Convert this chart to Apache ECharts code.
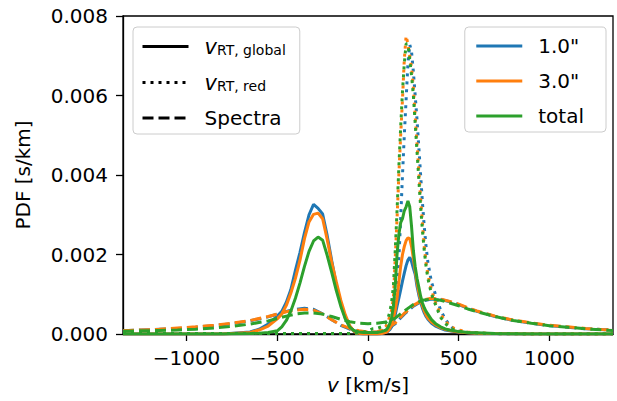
<!DOCTYPE html>
<html><head><meta charset="utf-8">
<script src="https://cdn.jsdelivr.net/npm/echarts@6/dist/echarts.min.js"></script>
<style>html,body{margin:0;padding:0;background:#fff}#c{width:617px;height:401px}</style>
</head><body><div id="c"></div>
<script>
// velocity grid (km/s) for the RT curves
const vFine = [
  -1350, -800, -650, -600, -550,
  -500, -475, -450, -425, -400,
  -375, -350, -325, -300, -275,
  -250, -225, -200, -175, -150,
  -125, -100, -75, -50, -25,
  0, 25, 50, 75, 100,
  110, 120, 130, 140, 150,
  160, 170, 180, 190, 200,
  210, 220, 230, 240, 250,
  260, 270, 280, 290, 300,
  310, 320, 330, 350, 375,
  400, 425, 450, 475, 500,
  550, 600, 700, 900, 1350
];
// v_RT,global (solid)
const globalBlue = [
  0, 0, 0.00005, 0.00012, 0.00025,
  0.00045, 0.00057, 0.0008, 0.00112, 0.0016,
  0.00205, 0.00255, 0.003, 0.00326, 0.00316,
  0.00302, 0.00248, 0.00185, 0.00125, 0.00078,
  0.0004, 0.00018, 0.00006, 0.00002, 0,
  0, 0, 0, 0.00001, 0.00004,
  0.00007, 0.00011, 0.00018, 0.0003, 0.00048,
  0.0007, 0.0009, 0.00111, 0.00133, 0.00153,
  0.00172, 0.00186, 0.00193, 0.00182, 0.00165,
  0.0015, 0.0012, 0.00098, 0.0008, 0.00065,
  0.00053, 0.00044, 0.00037, 0.00027, 0.00019,
  0.00014, 0.0001, 0.00008, 0.00006, 0.00005,
  0.00003, 0.00002, 0.00001, 0, 0
];
const globalOrange = [
  0, 0, 0.00004, 0.0001, 0.0002,
  0.00038, 0.0005, 0.00072, 0.00103, 0.0014,
  0.00185, 0.0024, 0.00282, 0.00301, 0.00304,
  0.0029, 0.00238, 0.0018, 0.00132, 0.00085,
  0.00048, 0.0002, 0.00006, 0.00002, 0,
  0, 0, 0, 0.00001, 0.00004,
  0.00008, 0.00014, 0.00025, 0.0004, 0.0006,
  0.0009, 0.0013, 0.0017, 0.002, 0.0022,
  0.00235, 0.00242, 0.0024, 0.0022, 0.0019,
  0.0016, 0.0013, 0.00105, 0.00086, 0.00071,
  0.00058, 0.00048, 0.0004, 0.0003, 0.00022,
  0.00016, 0.00012, 0.00009, 0.00007, 0.00005,
  0.00003, 0.00002, 0.00001, 0, 0
];
const globalGreen = [
  0, 0, 0.00001, 0.00002, 0.00004,
  0.00008, 0.00018, 0.00034, 0.00058, 0.0009,
  0.00128, 0.0017, 0.00208, 0.00234, 0.00244,
  0.00236, 0.00198, 0.00155, 0.0011, 0.0007,
  0.00038, 0.00017, 0.00008, 0.00005, 0.00004,
  0.00004, 0.00004, 0.00004, 0.00006, 0.0001,
  0.00016, 0.00026, 0.00042, 0.0007, 0.0012,
  0.002, 0.0025, 0.0028, 0.0029, 0.0031,
  0.0032, 0.00335, 0.0032, 0.0027, 0.0021,
  0.0017, 0.0014, 0.00118, 0.00095, 0.00078,
  0.00066, 0.00057, 0.0005, 0.00036, 0.00025,
  0.00018, 0.00013, 0.0001, 0.00008, 0.00006,
  0.00004, 0.00003, 0.00001, 0, 0
];
// v_RT,red (dotted)
const redBlue = [
  0.00001, 0.00001, 0.00001, 0.00001, 0.00001,
  0.00001, 0.00001, 0.00001, 0.00001, 0.00001,
  0.00001, 0.00001, 0.00001, 0.00001, 0.00001,
  0.00001, 0.00001, 0.00001, 0.00001, 0.00001,
  0.00001, 0.00001, 0.00001, 0.00001, 0.00002,
  0.00002, 0.00003, 0.00004, 0.00006, 0.0001,
  0.00014, 0.0002, 0.0003, 0.00045, 0.0006,
  0.0009, 0.0019, 0.0029, 0.004, 0.005,
  0.0059, 0.0068, 0.00728, 0.0071, 0.0066,
  0.006, 0.0054, 0.0047, 0.004, 0.0033,
  0.0027, 0.0022, 0.0018, 0.0013, 0.00095,
  0.0006, 0.00038, 0.00022, 0.00012, 0.00007,
  0.00004, 0.00002, 0.00001, 0, 0
];
const redOrange = [
  0.00001, 0.00001, 0.00001, 0.00001, 0.00001,
  0.00001, 0.00001, 0.00001, 0.00001, 0.00001,
  0.00001, 0.00001, 0.00001, 0.00001, 0.00001,
  0.00001, 0.00001, 0.00001, 0.00001, 0.00001,
  0.00001, 0.00001, 0.00001, 0.00001, 0.00002,
  0.00002, 0.00003, 0.00005, 0.0001, 0.0002,
  0.0003, 0.00045, 0.0006, 0.0009, 0.0019,
  0.0029, 0.004, 0.005, 0.0059, 0.0069,
  0.0075, 0.0073, 0.007, 0.0067, 0.0062,
  0.0055, 0.0048, 0.0041, 0.0034, 0.0028,
  0.0022, 0.0018, 0.0015, 0.0011, 0.00075,
  0.0005, 0.00033, 0.0002, 0.00014, 0.0001,
  0.00005, 0.00003, 0.00001, 0, 0
];
const redGreen = [
  0.00001, 0.00001, 0.00001, 0.00001, 0.00001,
  0.00001, 0.00001, 0.00001, 0.00001, 0.00001,
  0.00001, 0.00001, 0.00001, 0.00001, 0.00001,
  0.00001, 0.00001, 0.00001, 0.00001, 0.00001,
  0.00001, 0.00001, 0.00002, 0.00003, 0.00005,
  0.00008, 0.00013, 0.00014, 0.00018, 0.0003,
  0.0004, 0.00055, 0.0008, 0.0012, 0.0021,
  0.0031, 0.0042, 0.0052, 0.0061, 0.0068,
  0.0073, 0.0073, 0.0069, 0.0065, 0.006,
  0.0053, 0.0046, 0.0039, 0.0032, 0.0026,
  0.0021, 0.0017, 0.0014, 0.001, 0.0007,
  0.00042, 0.00027, 0.00016, 0.0001, 0.00007,
  0.00004, 0.00002, 0.00001, 0, 0
];
// velocity grid for the spectra curves
const vSpec = [
  -1350, -1250, -1150, -1050, -950, -850, -750, -650, -550, -500,
  -450, -400, -350, -300, -250, -200, -150, -100, -50, 0,
  50, 100, 150, 200, 250, 300, 350, 400, 450, 500,
  550, 600, 700, 800, 900, 1000, 1100, 1200, 1300, 1350
];
const specBlue = [
  0.00008, 0.0001, 0.00012, 0.00014, 0.00017, 0.00021, 0.00026, 0.00033, 0.00043, 0.0005,
  0.00057, 0.00062, 0.00065, 0.00062, 0.00051, 0.00036, 0.00022, 0.00012, 0.00006, 0.00004,
  0.00005, 0.00011, 0.00026, 0.0005, 0.0007, 0.00083, 0.00088, 0.00087, 0.00081, 0.00074,
  0.00065, 0.00057, 0.00044, 0.00034, 0.00027, 0.00021, 0.00017, 0.00013, 0.00011, 0.0001
];
const specOrange = [
  0.00008, 0.0001, 0.00012, 0.00015, 0.00018, 0.00022, 0.00027, 0.00034, 0.00044, 0.0005,
  0.00056, 0.0006, 0.00062, 0.0006, 0.0005, 0.00036, 0.00023, 0.00014, 0.00008, 0.00005,
  0.00005, 0.00012, 0.00028, 0.00052, 0.00072, 0.00085, 0.0009, 0.00088, 0.00082, 0.00075,
  0.00066, 0.00058, 0.00045, 0.00035, 0.00028, 0.00022, 0.00018, 0.00014, 0.00011, 0.0001
];
const specGreen = [
  0.00007, 0.00008, 0.00009, 0.0001, 0.00012, 0.00015, 0.00019, 0.00025, 0.00033, 0.00039,
  0.00045, 0.0005, 0.00053, 0.00053, 0.0005, 0.00044, 0.00037, 0.00031, 0.00027, 0.00026,
  0.00027, 0.0003, 0.0004, 0.00058, 0.00074, 0.00085, 0.00088, 0.00085, 0.00078, 0.00071,
  0.00063, 0.00056, 0.00044, 0.00034, 0.00027, 0.00021, 0.00017, 0.00013, 0.0001, 0.00009
];
const xTicks = [-1000, -500, 0, 500, 1000];
const sizeNames = ['1.0"', '3.0"', 'total'];
const colors = ['#1f77b4', '#ff7f0e', '#2ca02c'];
const styleNames = ['vglobal', 'vred', 'Spectra'];

const FONT = 'DejaVu Sans';
const DOT = [3, 5];
const DASH = [11, 5];
const LW = 3;

function pairs(xs, ys) { return xs.map((x, i) => [x, ys[i]]); }

const groups = [
  [globalBlue, redBlue, specBlue],
  [globalOrange, redOrange, specOrange],
  [globalGreen, redGreen, specGreen]
];
const series = [];
groups.forEach((g, ci) => {
  const types = ['solid', DOT, DASH];
  const xs = [vFine, vFine, vSpec];
  g.forEach((ys, k) => {
    series.push({
      type: 'line', name: sizeNames[ci], data: pairs(xs[k], ys),
      showSymbol: false, symbol: 'none', silent: true, animation: false,
      color: colors[ci],
      lineStyle: { width: LW, type: types[k], cap: 'butt', color: colors[ci] }
    });
  });
});
// dummy black series for the style legend
['solid', DOT, DASH].forEach((t, k) => {
  series.push({
    type: 'line', name: styleNames[k], data: [], symbol: 'none', color: '#000',
    lineStyle: { width: LW, type: t, color: '#000', cap: 'butt' }
  });
});

const legendCommon = {
  orient: 'vertical', selectedMode: false,
  itemWidth: 46, itemHeight: 20, itemGap: 15,
  itemStyle: { opacity: 0, borderWidth: 0 },
  lineStyle: { width: LW, opacity: 1 },
  backgroundColor: 'rgba(255,255,255,0.8)',
  borderColor: '#cccccc', borderWidth: 1, borderRadius: 4,
  textStyle: { fontFamily: FONT, fontSize: 20, color: '#000', padding: [0, 0, 0, 11],
    rich: {
      i: { fontFamily: FONT, fontSize: 21, fontStyle: 'italic', color: '#000' },
      s: { fontFamily: FONT, fontSize: 14, color: '#000', padding: [7, 0, 0, 0] }
    } }
};

const chart = echarts.init(document.getElementById('c'), null, { renderer: 'svg' });
chart.setOption({
  animation: false,
  grid: { left: 123, right: 4, top: 16, bottom: 67, show: true, borderColor: '#000', borderWidth: 1.3, backgroundColor: 'transparent' },
  xAxis: {
    type: 'value', min: -1350, max: 1350,
    name: '{i|v} [km/s]', nameLocation: 'middle', nameGap: 41,
    nameTextStyle: { fontFamily: FONT, fontSize: 20, color: '#000',
      rich: { i: { fontFamily: FONT, fontSize: 20, fontStyle: 'italic', color: '#000' } } },
    axisLine: { onZero: false, lineStyle: { color: '#000', width: 1.3 } },
    axisTick: { customValues: xTicks, length: 7, lineStyle: { color: '#000', width: 1.3 } },
    axisLabel: { customValues: xTicks, margin: 14, fontFamily: FONT, fontSize: 20, color: '#000',
      formatter: v => (v < 0 ? '\u2212' + Math.abs(v) : String(v)) },
    splitLine: { show: false }
  },
  yAxis: {
    type: 'value', min: 0, max: 0.008, interval: 0.002,
    name: 'PDF [s/km]', nameLocation: 'middle', nameGap: 90,
    nameTextStyle: { fontFamily: FONT, fontSize: 20, color: '#000' },
    axisLine: { show: true, onZero: false, lineStyle: { color: '#000', width: 1.3 } },
    axisTick: { show: true, length: 7, lineStyle: { color: '#000', width: 1.3 } },
    axisLabel: { margin: 15, fontFamily: FONT, fontSize: 20, color: '#000', formatter: v => v.toFixed(3) },
    splitLine: { show: false }
  },
  legend: [
    Object.assign({}, legendCommon, {
      data: styleNames, left: 133, top: 27, padding: [9, 14, 6, 8],
      formatter: n => n === 'vglobal' ? '{i|v}{s|RT, global}' : (n === 'vred' ? '{i|v}{s|RT, red}' : 'Spectra')
    }),
    Object.assign({}, legendCommon, {
      data: sizeNames, right: 11, top: 27, padding: [9, 22, 6, 10]
    })
  ],
  series: series
});
</script>
</body></html>
